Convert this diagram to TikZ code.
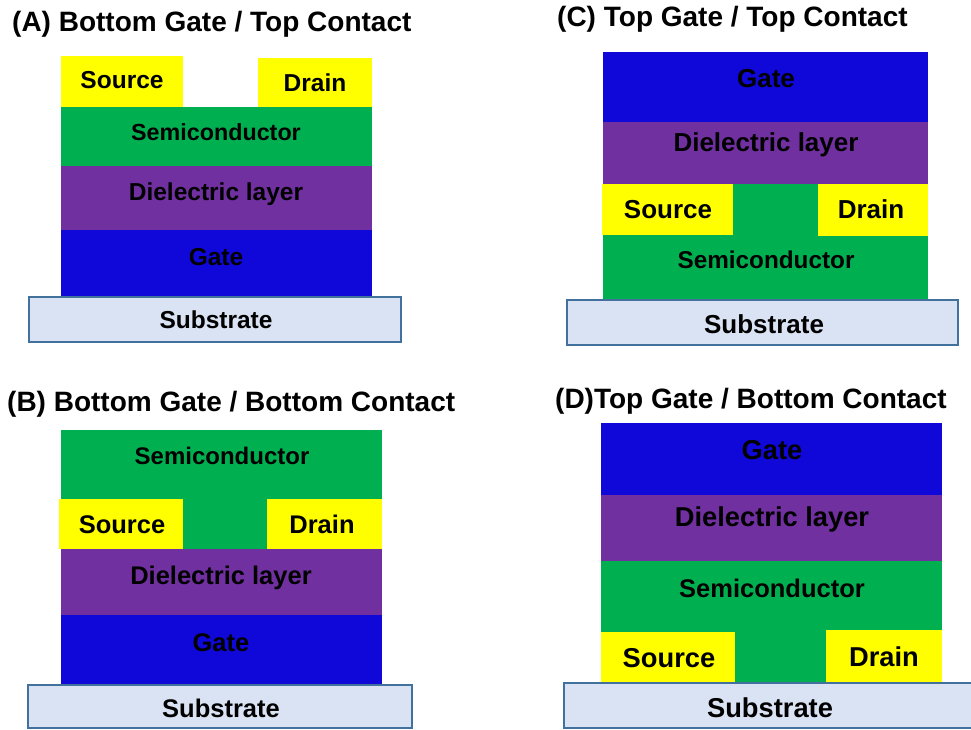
\documentclass[tikz,border=0pt]{standalone}
\usepackage{fontspec}
\setmainfont{Liberation Sans}
\definecolor{cyel}{HTML}{FFFF00}
\definecolor{cgrn}{HTML}{00B050}
\definecolor{cpur}{HTML}{7030A0}
\definecolor{cblu}{HTML}{1008D8}
\definecolor{csubf}{HTML}{DAE3F3}
\definecolor{csubl}{HTML}{41719C}
\newcommand\fsz[1]{\fontsize{#1}{#1}\selectfont\bfseries}
\newcommand\lyr[6]{\node[layerbox, fill=#2, minimum width={#5-#3}, minimum height={#6-#4}] (#1) at (#3,#4) {};}
\newcommand\sbs[5]{\node[layerbox, fill=csubf, draw=csubl, line width=1.5pt, minimum width={#4-#2}, minimum height={#5-#3}] (#1) at (#2,#3) {};}
\tikzset{
  layerbox/.style={anchor=north west, inner sep=0pt, outer sep=0pt, draw=none},
  lbl/.style={anchor=base, inner sep=0pt, text=black},
  ttl/.style={anchor=base west, inner sep=0pt, font=\fsz{28}}
}
\begin{document}
\begin{tikzpicture}[x=1pt,y=-1pt]
\useasboundingbox (0,0) rectangle (971,729);
% ---------- (A) ----------
\node[ttl] (aT) at (12,31) {(A) Bottom Gate / Top Contact};
\lyr{aSrc}{cyel}{61}{56}{183}{107}
\lyr{aDrn}{cyel}{258}{58}{372}{107}
\lyr{aSemi}{cgrn}{61}{107}{372}{166}
\lyr{aDiel}{cpur}{61}{166}{372}{230}
\lyr{aGate}{cblu}{61}{230}{372}{297}
\sbs{aSub}{29}{297}{401}{342}
\node[lbl, font=\fsz{24.5}] (aSrcT) at (122,88) {Source};
\node[lbl, font=\fsz{24.5}] (aDrnT) at (315,91) {Drain};
\node[lbl, font=\fsz{23.3}] (aSemiT) at (216,140) {Semiconductor};
\node[lbl, font=\fsz{24.5}] (aDielT) at (216,200) {Dielectric layer};
\node[lbl, font=\fsz{24.5}] (aGateT) at (216,265) {Gate};
\node[lbl, font=\fsz{24.5}] (aSubT) at (216,328) {Substrate};
% ---------- (C) ----------
\node[ttl] (cT) at (557,26) {(C) Top Gate / Top Contact};
\lyr{cGate}{cblu}{603}{52}{928}{122}
\lyr{cDiel}{cpur}{603}{122}{928}{184}
\lyr{cSemi}{cgrn}{603}{184}{928}{300}
\lyr{cSrc}{cyel}{602}{184}{733}{235}
\lyr{cDrn}{cyel}{818}{184}{928}{236}
\sbs{cSub}{567}{300}{958}{345}
\node[lbl, font=\fsz{26}] (cGateT) at (766,87) {Gate};
\node[lbl, font=\fsz{26}] (cDielT) at (766,151) {Dielectric layer};
\node[lbl, font=\fsz{26}] (cSrcT) at (668,218) {Source};
\node[lbl, font=\fsz{26}] (cDrnT) at (871,218) {Drain};
\node[lbl, font=\fsz{24.3}] (cSemiT) at (766,268) {Semiconductor};
\node[lbl, font=\fsz{26}] (cSubT) at (764,333) {Substrate};
% ---------- (B) ----------
\node[ttl] (bT) at (7,411) {(B) Bottom Gate / Bottom Contact};
\lyr{bSemi}{cgrn}{61}{430}{382}{550}
\lyr{bSrc}{cyel}{59}{499}{183}{549}
\lyr{bDrn}{cyel}{267}{499}{382}{549}
\lyr{bDiel}{cpur}{61}{549}{382}{615}
\lyr{bGate}{cblu}{61}{615}{382}{685}
\sbs{bSub}{28}{685}{412}{728}
\node[lbl, font=\fsz{24}] (bSemiT) at (222,464) {Semiconductor};
\node[lbl, font=\fsz{25.5}] (bSrcT) at (122,533) {Source};
\node[lbl, font=\fsz{25.5}] (bDrnT) at (322,533) {Drain};
\node[lbl, font=\fsz{25.5}] (bDielT) at (221,584) {Dielectric layer};
\node[lbl, font=\fsz{25.5}] (bGateT) at (221,651) {Gate};
\node[lbl, font=\fsz{25.5}] (bSubT) at (221,717) {Substrate};
% ---------- (D) ----------
\node[ttl] (dT) at (555,408) {(D)Top Gate / Bottom Contact};
\lyr{dGate}{cblu}{601}{423}{942}{495}
\lyr{dDiel}{cpur}{601}{495}{942}{561}
\lyr{dSemi}{cgrn}{601}{561}{942}{683}
\lyr{dSrc}{cyel}{601}{632}{735}{683}
\lyr{dDrn}{cyel}{826}{630}{942}{683}
\sbs{dSub}{564}{683}{990}{728}
\node[lbl, font=\fsz{27.3}] (dGateT) at (772,459) {Gate};
\node[lbl, font=\fsz{27.3}] (dDielT) at (772,526) {Dielectric layer};
\node[lbl, font=\fsz{25.5}] (dSemiT) at (772,597) {Semiconductor};
\node[lbl, font=\fsz{27.3}] (dSrcT) at (669,667) {Source};
\node[lbl, font=\fsz{27.3}] (dDrnT) at (884,666) {Drain};
\node[lbl, font=\fsz{27.3}] (dSubT) at (770,717) {Substrate};
\end{tikzpicture}
\end{document}
